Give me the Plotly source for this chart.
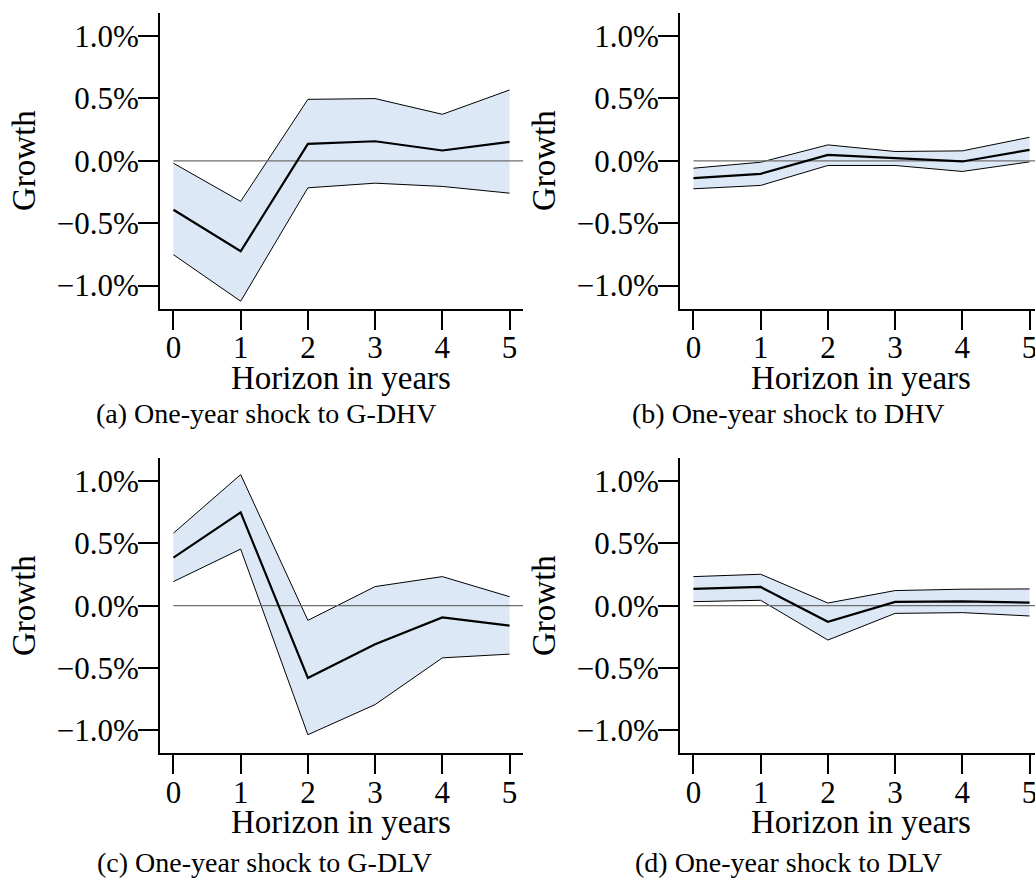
import plotly.graph_objects as go

# ---------------- data ----------------
horizon = [0, 1, 2, 3, 4, 5]

a_center = [-0.392, -0.725, 0.136, 0.157, 0.083, 0.152]
a_upper = [-0.019, -0.325, 0.493, 0.499, 0.373, 0.568]
a_lower = [-0.752, -1.125, -0.216, -0.179, -0.205, -0.259]

b_center = [-0.139, -0.104, 0.048, 0.024, -0.005, 0.088]
b_upper = [-0.059, -0.011, 0.128, 0.075, 0.080, 0.189]
b_lower = [-0.224, -0.197, -0.037, -0.037, -0.085, -0.008]

c_center = [0.386, 0.749, -0.580, -0.309, -0.094, -0.161]
c_upper = [0.582, 1.052, -0.118, 0.153, 0.233, 0.072]
c_lower = [0.193, 0.454, -1.036, -0.794, -0.419, -0.389]

d_center = [0.134, 0.150, -0.129, 0.030, 0.035, 0.024]
d_upper = [0.233, 0.252, 0.021, 0.121, 0.132, 0.134]
d_lower = [0.032, 0.043, -0.276, -0.062, -0.056, -0.083]

captions = ["(a) One-year shock to G-DHV", "(b) One-year shock to DHV",
            "(c) One-year shock to G-DLV", "(d) One-year shock to DLV"]
ytick_vals = [1.0, 0.5, 0.0, -0.5, -1.0]
ytick_text = ["1.0%", "0.5%", "0.0%", "\u22120.5%", "\u22121.0%"]
x_title = "Horizon in years"
y_title = "Growth"

# ---------------- layout geometry ----------------
W, H = 1035, 886
FONT = "Liberation Serif"
FILL = "#dce8f5"

panels = [
    dict(c=a_center, u=a_upper, l=a_lower,
         xdom=[160 / W, 523 / W], xr=[-0.2, 5.2], ydom=[1 - 308.7 / H, 1 - 13 / H]),
    dict(c=b_center, u=b_upper, l=b_lower,
         xdom=[680 / W, 1.0], xr=[-0.2, 5.081], ydom=[1 - 308.7 / H, 1 - 13 / H]),
    dict(c=c_center, u=c_upper, l=c_lower,
         xdom=[160 / W, 523 / W], xr=[-0.2, 5.2], ydom=[1 - 753.3 / H, 1 - 458 / H]),
    dict(c=d_center, u=d_upper, l=d_lower,
         xdom=[680 / W, 1.0], xr=[-0.2, 5.081], ydom=[1 - 753.3 / H, 1 - 458 / H]),
]

caption_pos = [(266, 413), (788, 413), (264, 862), (788, 862)]
growth_pos = [(24, 161), (544, 161), (24, 606), (544, 606)]
horizon_pos = [(341, 378), (861, 378), (341, 822), (861, 822)]

fig = go.Figure()
annotations = []
for i, p in enumerate(panels):
    n = "" if i == 0 else str(i + 1)
    xa, ya = "x" + n, "y" + n
    fig.add_trace(go.Scatter(x=horizon, y=p["u"], mode="lines",
                             line=dict(color="black", width=1),
                             xaxis=xa, yaxis=ya, showlegend=False, hoverinfo="skip"))
    fig.add_trace(go.Scatter(x=horizon, y=p["l"], mode="lines", fill="tonexty",
                             fillcolor=FILL, line=dict(color="black", width=1),
                             xaxis=xa, yaxis=ya, showlegend=False, hoverinfo="skip"))
    fig.add_trace(go.Scatter(x=[horizon[0], p["xr"][1]], y=[0, 0], mode="lines",
                             line=dict(color="#6e6e6e", width=1.2),
                             xaxis=xa, yaxis=ya, showlegend=False, hoverinfo="skip"))
    fig.add_trace(go.Scatter(x=horizon, y=p["c"], mode="lines",
                             line=dict(color="black", width=2.2),
                             xaxis=xa, yaxis=ya, showlegend=False, hoverinfo="skip"))

    fig.update_layout(**{
        "xaxis" + n: dict(domain=p["xdom"], range=p["xr"], anchor=ya,
                          tickvals=horizon, ticktext=[str(h) for h in horizon],
                          ticks="outside", ticklen=19, tickwidth=2, tickcolor="black",
                          showline=True, linewidth=2, linecolor="black",
                          showgrid=False, zeroline=False, automargin=False,
                          tickfont=dict(family=FONT, size=31, color="black"),
                          ticklabelstandoff=-9, ticklabeloverflow="allow"),
        "yaxis" + n: dict(domain=p["ydom"], range=[-1.185, 1.185], anchor=xa,
                          tickvals=ytick_vals, ticktext=ytick_text,
                          ticks="outside", ticklen=20, tickwidth=2, tickcolor="black",
                          showline=True, linewidth=2, linecolor="black",
                          showgrid=False, zeroline=False, automargin=False,
                          tickfont=dict(family=FONT, size=31, color="black"),
                          ticklabelstandoff=-7),
    })

    cx, cy = caption_pos[i]
    annotations.append(dict(text=captions[i], x=cx / W, y=1 - cy / H, xref="paper", yref="paper",
                            showarrow=False, xanchor="center", yanchor="middle",
                            font=dict(family=FONT, size=28, color="black")))
    gx, gy = growth_pos[i]
    annotations.append(dict(text=y_title, x=gx / W, y=1 - gy / H, xref="paper", yref="paper",
                            showarrow=False, xanchor="center", yanchor="middle", textangle=-90,
                            font=dict(family=FONT, size=33, color="black")))
    hx, hy = horizon_pos[i]
    annotations.append(dict(text=x_title, x=hx / W, y=1 - hy / H, xref="paper", yref="paper",
                            showarrow=False, xanchor="center", yanchor="middle",
                            font=dict(family=FONT, size=33, color="black")))

fig.update_layout(width=W, height=H, margin=dict(l=0, r=0, t=0, b=0),
                  paper_bgcolor="white", plot_bgcolor="white",
                  annotations=annotations, showlegend=False)

fig.write_html("out.html", config={"displayModeBar": False},
               post_script="document.body.style.margin='0px';")
